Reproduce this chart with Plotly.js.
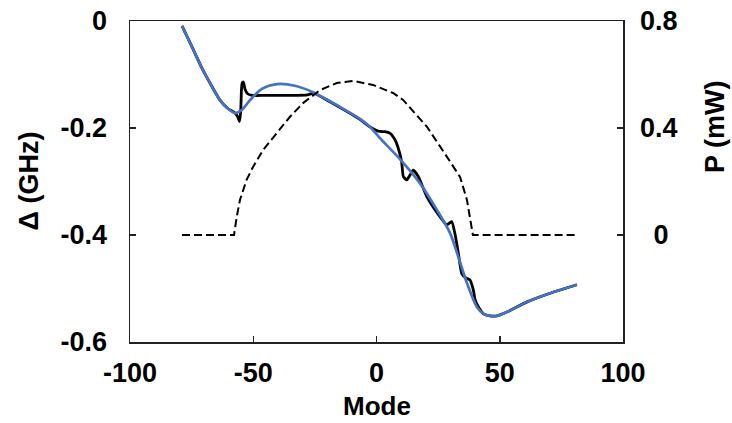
<!DOCTYPE html>
<html>
<head>
<meta charset="utf-8">
<script src="https://cdn.plot.ly/plotly-3.0.1.min.js"></script>
<style>html,body{margin:0;padding:0;background:#fff;}#chart{width:732px;height:423px;}</style>
</head>
<body>
<div id="chart"></div>
<script>
// Blue (fit) detuning curve
const blueMode = [-78.9,-74.8,-70.4,-66.7,-63.5,-60.2,-57.4,-54.6,-51.3,-46.5,-40.4,-33.1,-25.8,-18.9,-12.8,-6.7,-2.6,1.4,9.5,17.6,24.5,29.8,32.7,36.7,40.8,43.6,46.0,48.9,52.9,61.1,71.6,81.3];
const blueDelta = [-0.009,-0.049,-0.092,-0.123,-0.148,-0.164,-0.172,-0.166,-0.148,-0.127,-0.118,-0.121,-0.133,-0.150,-0.166,-0.183,-0.198,-0.219,-0.258,-0.303,-0.353,-0.396,-0.434,-0.490,-0.535,-0.548,-0.551,-0.551,-0.544,-0.525,-0.507,-0.493];

// Black (simulated) detuning curve
const blackMode = [-78.9,-74.8,-70.4,-66.7,-63.5,-60.2,-57.4,-56.2,-55.6,-55.1,-54.8,-54.5,-54.0,-53.3,-52.3,-50.5,-45,-35,-28,-25.5,-18.9,-12.8,-6.7,-2.6,0.7,3.4,5.5,7.5,8.7,10.2,10.9,12.3,13.6,14.9,17.0,20.4,25.8,28.5,30.5,31.8,33.2,34.6,36.2,37.9,39.3,40.0,41.3,43.6,46.0,48.9,52.9,61.1,71.6,81.3];
const blackDelta = [-0.009,-0.049,-0.092,-0.123,-0.148,-0.164,-0.172,-0.180,-0.188,-0.170,-0.130,-0.116,-0.114,-0.128,-0.136,-0.139,-0.139,-0.139,-0.138,-0.135,-0.151,-0.167,-0.184,-0.198,-0.206,-0.207,-0.210,-0.222,-0.236,-0.263,-0.291,-0.297,-0.288,-0.279,-0.291,-0.328,-0.366,-0.381,-0.375,-0.397,-0.434,-0.472,-0.480,-0.484,-0.503,-0.521,-0.534,-0.548,-0.551,-0.551,-0.544,-0.525,-0.507,-0.493];

// Dashed power curve (right axis)
const powMode = [-78.9,-57.8,-56.7,-55.4,-52.7,-50.1,-46.0,-40.5,-35.1,-29.8,-22.9,-16.1,-9.5,-1.4,6.7,10.8,20.5,28.6,33.9,36.7,38.7,39.1,81.3];
const powP = [0,0,0.068,0.131,0.206,0.254,0.318,0.381,0.442,0.493,0.542,0.568,0.576,0.561,0.531,0.505,0.404,0.292,0.217,0.131,0.007,0,0];

const xTicks = [-100,-50,0,50,100];
const xTickText = ['-100','-50','0','50','100'];
const yTicks = [-0.6,-0.4,-0.2,0];
const yTickText = ['-0.6','-0.4','-0.2','0'];
const y2Ticks = [0,0.4,0.8];
const y2TickText = ['\u20020','0.4','0.8'];

const FONT = {family:'Liberation Sans, Arial, sans-serif', size:27, color:'#000', weight:700};
const TITLE_FONT = {family:'Liberation Sans, Arial, sans-serif', size:26, color:'#000', weight:700};

const traces = [
  {x:powMode, y:powP, yaxis:'y2', mode:'lines', line:{color:'#000', width:2, dash:'8px,4px'}, hoverinfo:'skip'},
  {x:blackMode, y:blackDelta, mode:'lines', line:{color:'#000', width:2.8, shape:'spline', smoothing:0.5}, hoverinfo:'skip'},
  {x:blueMode, y:blueDelta, mode:'lines', line:{color:'#4472C4', width:2.7, shape:'spline', smoothing:0.8}, hoverinfo:'skip'}
];

const axLine = {showline:true, linecolor:'#222', linewidth:1.5, ticks:'inside', ticklen:6, tickwidth:1.5, tickcolor:'#222', showgrid:false, zeroline:false, tickfont:FONT};

const layout = {
  width:732, height:423,
  margin:{l:130, r:109, t:21, b:81},
  paper_bgcolor:'#fff', plot_bgcolor:'#fff',
  showlegend:false,
  font:FONT,
  xaxis:Object.assign({}, axLine, {range:[-100,100], tickvals:xTicks, ticktext:xTickText, mirror:true, ticklabelstandoff:6}),
  yaxis:Object.assign({}, axLine, {range:[-0.6,0], tickvals:yTicks, ticktext:yTickText, ticklabelstandoff:16}),
  yaxis2:Object.assign({}, axLine, {range:[-0.4,0.8], tickvals:y2Ticks, ticktext:y2TickText, overlaying:'y', side:'right', ticklabelstandoff:10}),
  annotations:[
    {text:'Mode', xref:'paper', yref:'paper', x:0.5, y:0, xanchor:'center', yanchor:'middle', yshift:-64, showarrow:false, font:TITLE_FONT},
    {text:'\u0394 (GHz)', xref:'paper', yref:'paper', x:0, y:0.5, xanchor:'center', yanchor:'middle', xshift:-102, textangle:-90, showarrow:false, font:FONT},
    {text:'P (mW)', xref:'paper', yref:'paper', x:1, y:0.67, xanchor:'center', yanchor:'middle', xshift:92, textangle:-90, showarrow:false, font:FONT}
  ]
};

Plotly.newPlot('chart', traces, layout, {staticPlot:true, displayModeBar:false});
</script>
</body>
</html>
